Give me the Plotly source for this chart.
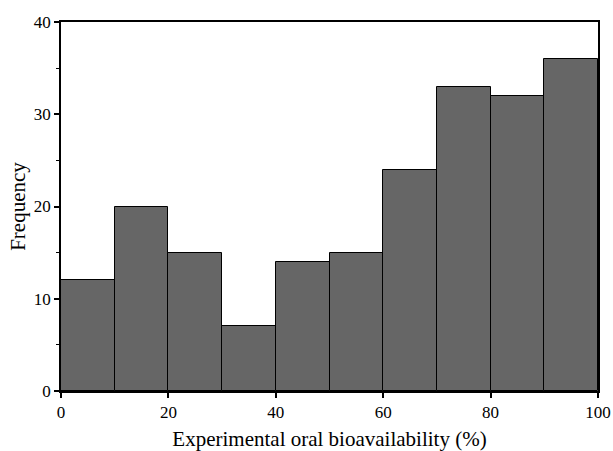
import plotly.graph_objects as go

bin_left = [0, 10, 20, 30, 40, 50, 60, 70, 80, 90]
bin_width = 10
counts = [12, 20, 15, 7, 14, 15, 24, 33, 32, 36]
x_title = "Experimental oral bioavailability (%)"
y_title = "Frequency"

centers = [b + bin_width / 2 for b in bin_left]

fig = go.Figure(go.Bar(
    x=centers, y=counts, width=[bin_width] * len(counts),
    marker=dict(color="#666666", line=dict(color="#000000", width=1)),
))

font = "Liberation Serif, Times New Roman, serif"
fig.update_layout(
    width=613, height=451,
    margin=dict(l=61, r=15, t=22, b=60, autoexpand=False),
    plot_bgcolor="white", paper_bgcolor="white",
    showlegend=False, bargap=0,
    font=dict(family=font, color="black", size=15),
)
fig.update_xaxes(
    range=[0, 100], tickvals=[0, 20, 40, 60, 80, 100],
    showline=True, linecolor="black", linewidth=1.5, mirror=True,
    ticks="outside", ticklen=5, tickwidth=1.5, tickcolor="black",
    showgrid=False, zeroline=False, automargin=False,
    tickfont=dict(size=17),
    title=dict(text=x_title, font=dict(size=21), standoff=11),
)
fig.update_yaxes(
    range=[0, 40], tickvals=[0, 10, 20, 30, 40],
    showline=True, linecolor="black", linewidth=1.5, mirror=True,
    ticks="outside", ticklen=5, tickwidth=1.5, tickcolor="black",
    minor=dict(dtick=5, ticks="outside", ticklen=3, tickcolor="black", tickwidth=1),
    showgrid=False, zeroline=False, automargin=False,
    tickfont=dict(size=17),
    title=dict(text=y_title, font=dict(size=21), standoff=2),
)
fig.write_html("out.html")
